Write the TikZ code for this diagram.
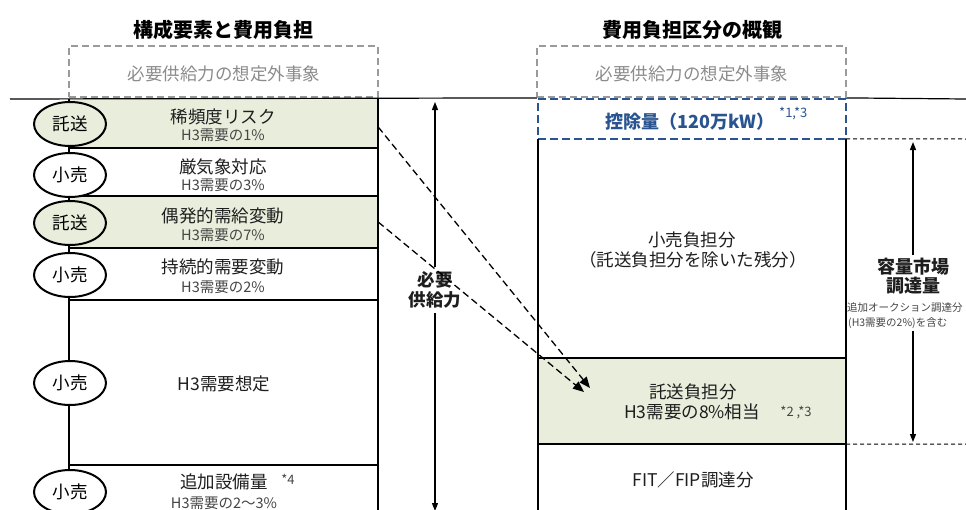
\documentclass[tikz,border=0pt]{standalone}
\usepackage{fontspec}
\setmainfont{Noto Sans CJK JP}
\usetikzlibrary{arrows.meta,shapes.geometric}
\definecolor{rowgreen}{HTML}{E9EDDC}
\definecolor{boxblue}{HTML}{2A5490}
\definecolor{dashgray}{HTML}{9A9A9A}
\definecolor{textgray}{HTML}{8C8C8C}
\definecolor{maintext}{HTML}{1E1E1E}
\definecolor{subtext}{HTML}{454545}
\newcommand{\myfs}[2]{\fontsize{#1}{#2}\selectfont}
\begin{document}
\begin{tikzpicture}[x=1pt,y=-1pt,
  every node/.style={inner sep=0pt, text=maintext},
  title/.style={font=\myfs{20}{22}\bfseries, text=black},
  maintxt/.style={font=\myfs{17.5}{19}},
  subtxt/.style={font=\myfs{14.5}{16}, text=subtext},
  tinytxt/.style={font=\myfs{10.5}{12}, text=subtext},
  notetxt/.style={font=\myfs{13}{14}, text=subtext},
  grayframe/.style={draw=dashgray, line width=2pt, dash pattern=on 7pt off 4pt, minimum width=309pt, minimum height=51pt},
  graytxt/.style={font=\myfs{17.5}{19}, text=textgray},
  band/.style={minimum width=309pt},
  rband/.style={minimum width=308pt},
  heavy/.style={line width=2.4pt},
  oval/.style={ellipse, draw=black, line width=2pt, minimum width=72pt, minimum height=44pt, font=\myfs{17.5}{19}, text=black},
  arr/.style={line width=1.2pt, -{Triangle[length=8pt,width=6pt]}},
  darr/.style={line width=1.3pt, dash pattern=on 7pt off 4pt, -{Triangle[length=11pt,width=9pt]}},
  thinline/.style={line width=1.2pt},
  thindash/.style={line width=1pt, dash pattern=on 4pt off 3pt}
]
\clip (0,0) rectangle (966,509);
\fill[white] (0,0) rectangle (966,509);

% titles
\node[title] (t1) at (223,30) {構成要素と費用負担};
\node[title] (t2) at (692,30) {費用負担区分の概観};

% gray dashed frames
\node[grayframe] (g1) at (223.5,71.5) {};
\node[graytxt] (g1t) at (224,74) {必要供給力の想定外事象};
\node[grayframe] (g2) at (691.5,71.5) {};
\node[graytxt] (g2t) at (692,74) {必要供給力の想定外事象};

% left column bands
\node[band, fill=rowgreen, minimum height=49pt] (r1) at (223.5,123.5) {};
\node[band, minimum height=48pt] (r2) at (223.5,172) {};
\node[band, fill=rowgreen, minimum height=52pt] (r3) at (223.5,222) {};
\node[band, minimum height=52pt] (r4) at (223.5,274) {};
\node[band, minimum height=165pt] (r5) at (223.5,382.5) {};
\node[band, minimum height=50pt] (r6) at (223.5,490) {};

% right column bands
\node[rband, minimum height=219pt] (rs) at (692,248.5) {};
\node[rband, fill=rowgreen, minimum height=86pt] (ts) at (692,401) {};
\node[rband, minimum height=71pt] (fs) at (692,479.5) {};

% top thin line and blue box
\node[rband, draw=boxblue, line width=2.2pt, dash pattern=on 8pt off 4pt, minimum height=40pt] (bb) at (692,119) {};
\coordinate (hl) at (10,99);
\coordinate (hr) at (966,99);
\draw[thinline] (hl) -- (bb.north west);
\draw[thinline] (bb.north east) -- (hr);

% left column lines
\draw[heavy] (r1.south west) -- (r1.south east);
\draw[heavy] (r2.south west) -- (r2.south east);
\draw[heavy] (r3.south west) -- (r3.south east);
\draw[heavy] (r4.south west) -- (r4.south east);
\draw[heavy] (r5.south west) -- (r5.south east);
\draw[heavy] (r1.north west) -- (r6.south west);
\draw[heavy] (r1.north east) -- (r6.south east);

% right column lines
\draw[heavy] (rs.north west) -- (fs.south west);
\draw[heavy] (rs.north east) -- (fs.south east);
\draw[heavy] (ts.north west) -- (ts.north east);
\draw[heavy] (ts.south west) -- (ts.south east);
\coordinate (d1) at (966,139);
\coordinate (d2) at (966,444);
\draw[thindash] (rs.north east) -- (d1);
\draw[thindash] (ts.south east) -- (d2);

% ellipses
\node[oval, fill=rowgreen] (e1) at (70,124) {託送};
\node[oval, fill=white] (e2) at (70,175) {小売};
\node[oval, fill=rowgreen] (e3) at (70,223) {託送};
\node[oval, fill=white] (e4) at (70,275) {小売};
\node[oval, fill=white] (e5) at (70,383) {小売};
\node[oval, fill=white] (e6) at (70,492) {小売};

% left texts
\node[maintxt] (r1a) at (223,117) {稀頻度リスク};
\node[subtxt] (r1b) at (223,135) {H3需要の1\%};
\node[maintxt] (r2a) at (223,167) {厳気象対応};
\node[subtxt] (r2b) at (223,185) {H3需要の3\%};
\node[maintxt] (r3a) at (223,216) {偶発的需給変動};
\node[subtxt] (r3b) at (223,235) {H3需要の7\%};
\node[maintxt] (r4a) at (223,267) {持続的需要変動};
\node[subtxt] (r4b) at (223,287) {H3需要の2\%};
\node[maintxt] (r5a) at (224,384) {H3需要想定};
\node[maintxt] (r6a) at (224,482) {追加設備量};
\node[notetxt] (r6s) at (288,479) {*4};
\node[subtxt] (r6b) at (224,503) {H3需要の2〜3\%};

% right texts
\node[font=\myfs{18}{20}\bfseries, text=boxblue] (bbt) at (690,122) {控除量（120万kW）};
\node[font=\myfs{13}{14}, text=boxblue, anchor=west] (bbs) at (779,114) {*1,*3};
\node[maintxt] (rs1) at (692,240) {小売負担分};
\node[maintxt] (rs2) at (693,260) {（託送負担分を除いた残分）};
\node[maintxt] (ts1) at (693,392) {託送負担分};
\node[maintxt] (ts2) at (692,412) {H3需要の8\%相当};
\node[notetxt] (ts3) at (796,413) {*2 ,*3};
\node[maintxt] (fs1) at (693,480) {FIT／FIP調達分};

% need arrow
\node[font=\myfs{17.5}{20}\bfseries, align=center, minimum height=46pt] (need) at (435,290) {必要\\供給力};
\coordinate (needtop) at (435,102);
\coordinate (needbot) at (435,511);
\draw[arr] (need.north) -- (needtop);
\draw[arr] (need.south) -- (needbot);

% capacity market arrow
\node[font=\myfs{18}{19}\bfseries, align=center] (cap) at (913,276) {容量市場\\調達量};
\node[tinytxt, anchor=west] (cap2) at (847,308) {追加オークション調達分};
\node[tinytxt, anchor=west] (cap3) at (848,323) {(H3需要の2\%)を含む};
\coordinate (capu) at (913,255);
\coordinate (capd) at (913,331);
\coordinate (captop) at (913,142);
\coordinate (capbot) at (913,442);
\draw[arr] (capu) -- (captop);
\draw[arr] (capd) -- (capbot);

% dashed arrows
\coordinate (tip1) at (590,388);
\coordinate (tip2) at (584,392);
\draw[darr] ([yshift=-3.5pt]r1.east) -- (tip1);
\draw[darr] (r3.east) -- (tip2);
\end{tikzpicture}
\end{document}
